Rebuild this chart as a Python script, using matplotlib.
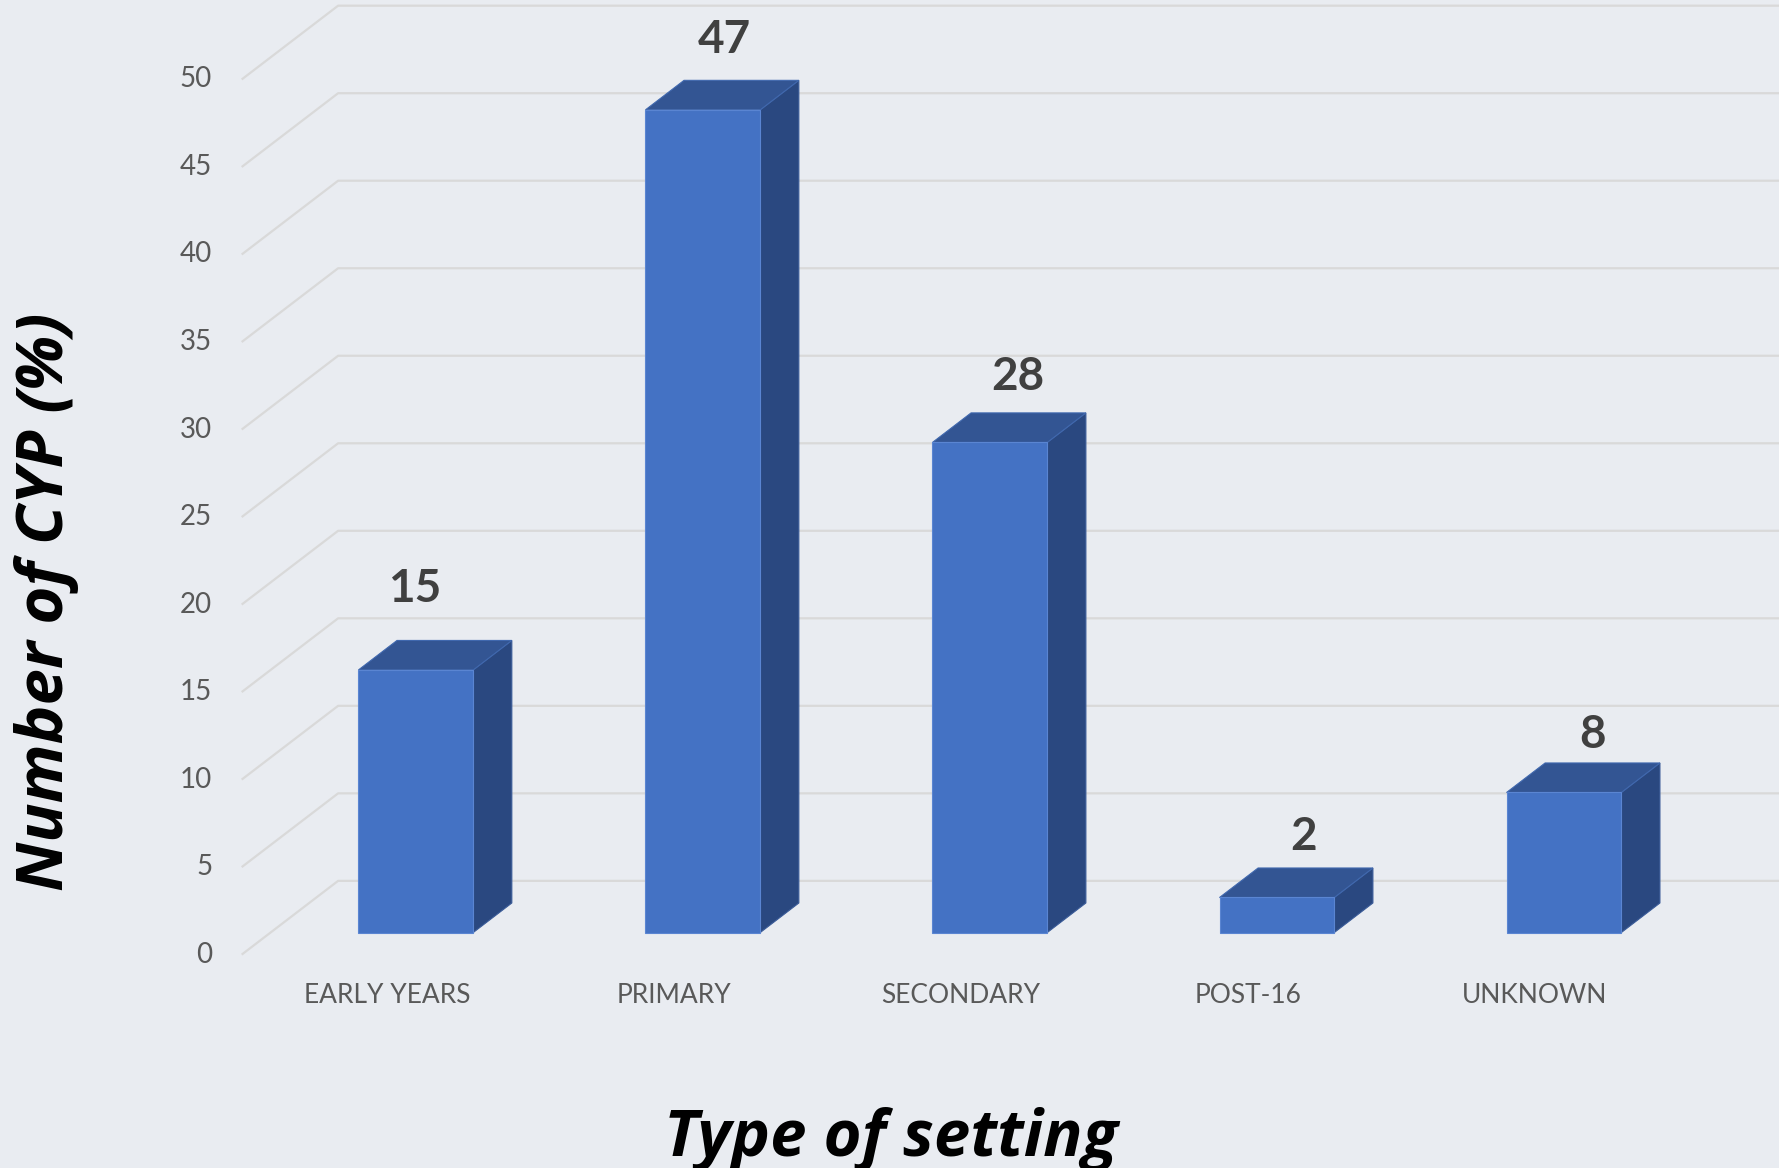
import numpy as np
import matplotlib.pyplot as plt
from matplotlib.patches import Polygon

plt.rcParams['font.family'] = ['Lato', 'DejaVu Sans']

# Share of CYP by type of setting
settings = ['EARLY YEARS', 'PRIMARY', 'SECONDARY', 'POST-16', 'UNKNOWN']
cyp_pct = [15, 47, 28, 2, 8]
y_ticks = [0, 5, 10, 15, 20, 25, 30, 35, 40, 45, 50]

# oblique "3D" look: depth vector expressed in (category, value) units
depth_dx, depth_dy = 0.336, 4.215
bar_front, bar_back = 0.3, 0.7
bar_half = 0.2

# small hand placement of the data labels (points)
label_nudge = [(-18, 10), (-2, 2), (3, -1), (2, -5), (3, -7)]

bg = '#E9ECF1'
grid_col = '#D9D9D9'
face_col = '#4472C4'
top_col = '#335593'
side_col = '#2A4880'


def project(c, v, d):
    return c + d * depth_dx, v + d * depth_dy


fig = plt.figure(figsize=(17.79, 11.68), dpi=100)
fig.patch.set_facecolor(bg)
ax = fig.add_axes([0, 0, 1, 1])
ax.set_facecolor(bg)
ax.set_xlim(-1.348, 4.85)
ax.set_ylim(-12.19, 54.54)
ax.axis('off')

# floor/side-wall diagonals and back-wall gridlines
x_wall = -0.506
for t in y_ticks:
    fx, fy = project(x_wall, t, 0)
    bx, by = project(x_wall, t, 1)
    ax.plot([fx, bx, 5.0], [fy, by, by], color=grid_col, lw=1.6,
            solid_capstyle='butt', zorder=1)
    ax.text(x_wall - 0.103, t, str(t), ha='right', va='center',
            fontsize=20, color='#595959')

for i, (name, val) in enumerate(zip(settings, cyp_pct)):
    x0, x1 = i - bar_half, i + bar_half
    fl, fb = project(x0, 0, bar_front)
    fr, _ = project(x1, 0, bar_front)
    _, ft = project(x0, val, bar_front)
    bl, bb = project(x0, 0, bar_back)
    br, _ = project(x1, 0, bar_back)
    _, bt = project(x0, val, bar_back)

    front = Polygon([(fl, fb), (fr, fb), (fr, ft), (fl, ft)],
                    closed=True, fc=face_col, ec='#5A85D2', lw=0.8, zorder=3)
    top = Polygon([(fl, ft), (fr, ft), (br, bt), (bl, bt)],
                  closed=True, fc=top_col, ec='#4068AE', lw=0.8, zorder=3)
    side = Polygon([(fr, fb), (br, bb), (br, bt), (fr, ft)],
                   closed=True, fc=side_col, ec='#3A5B98', lw=0.8, zorder=3)
    for p in (side, top, front):
        ax.add_patch(p)

    lx, _ = project(i, val, 0.55)
    ndx, ndy = label_nudge[i]
    ax.annotate(str(val), (lx, bt), xytext=(ndx, 27 + ndy),
                textcoords='offset points', ha='center', va='center',
                fontsize=33, fontweight='bold', color='#404040', zorder=4)

    ax.text(i, -2.33, name, ha='center', va='center', fontsize=19,
            color='#595959')

title_font = dict(family=['Open Sans', 'DejaVu Sans'], fontsize=47,
                  fontweight='bold', fontstyle='italic', color='black')
fig.text(0.026, 0.485, 'Number of CYP (%)', rotation=90, ha='center',
         va='center', **title_font)
fig.text(0.501, 0.0107, 'Type of setting', ha='center', va='baseline',
         **title_font)

fig.savefig('out.png', dpi=100, facecolor=bg)
